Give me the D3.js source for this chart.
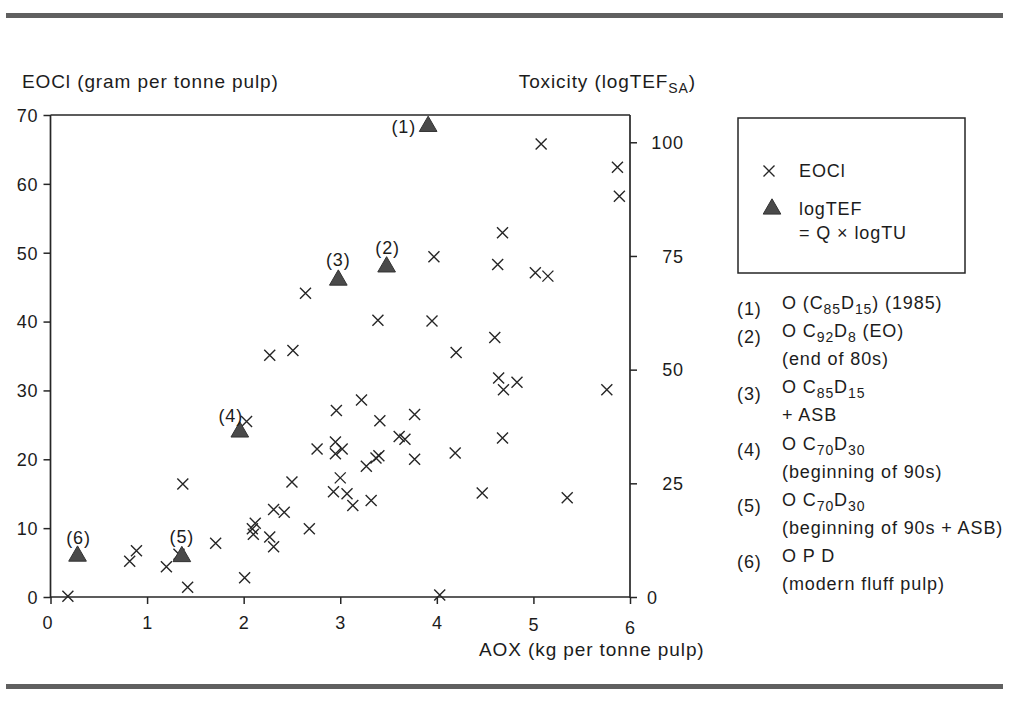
<!DOCTYPE html>
<html>
<head>
<meta charset="utf-8">
<script src="https://cdn.jsdelivr.net/npm/d3@7"></script>
<style>
  html, body { margin: 0; padding: 0; background: #fff; }
  svg { display: block; font-family: "Liberation Sans", Arial, Helvetica, sans-serif; }
  text { fill: #1c1c1c; font-size: 18px; letter-spacing: 0.9px; }
  text.title { font-size: 19px; }
</style>
</head>
<body>
<svg id="chart" width="1009" height="711"></svg>
<script>
// EOCl discharge against AOX, per mill (left axis, g per tonne pulp)
const eoclAox = [0.18, 0.82, 0.89, 1.20, 1.33, 1.37, 1.42, 1.71, 2.01, 2.03,
  2.09, 2.10, 2.12, 2.27, 2.31, 2.31, 2.27, 2.42, 2.50, 2.51,
  2.64, 2.68, 2.76, 2.93, 2.95, 2.95, 2.96, 3.00, 3.02, 3.07,
  3.13, 3.22, 3.27, 3.32, 3.37, 3.40, 3.39, 3.41, 3.61, 3.67,
  3.77, 3.77, 3.95, 3.97, 4.03, 4.19, 4.20, 4.47, 4.60, 4.63,
  4.64, 4.68, 4.68, 4.69, 4.83, 5.02, 5.08, 5.15, 5.35, 5.76,
  5.87, 5.89];
const eoclValue = [0.1, 5.2, 6.7, 4.4, 6.2, 16.4, 1.4, 7.8, 2.8, 25.5,
  9.9, 9.1, 10.7, 8.7, 7.3, 12.7, 35.1, 12.3, 16.7, 35.8,
  44.1, 9.9, 21.5, 15.3, 22.5, 20.8, 27.1, 17.3, 21.5, 15.0,
  13.3, 28.6, 19.0, 14.0, 20.2, 20.5, 40.2, 25.6, 23.3, 22.9,
  26.5, 20.0, 40.1, 49.4, 0.3, 20.9, 35.5, 15.1, 37.7, 48.3,
  31.8, 52.9, 23.1, 30.1, 31.2, 47.1, 65.8, 46.6, 14.4, 30.1,
  62.4, 58.2];

// Toxicity (logTEF_SA) of six bleaching sequences (right axis)
const toxNames = ["(1)", "(2)", "(3)", "(4)", "(5)", "(6)"];
const toxAox = [3.91, 3.48, 2.98, 1.96, 1.36, 0.28];
const toxValue = [103.5, 72.6, 69.7, 36.3, 8.9, 9.0];

// Axis ticks
const xTicks = [0, 1, 2, 3, 4, 5, 6];
const yLeftTicks = [0, 10, 20, 30, 40, 50, 60, 70];
const yRightTicks = [0, 25, 50, 75, 100];

// Sequence key (number, description; _{..} marks a subscript)
const keyNums = ["(1)", "(2)", "", "(3)", "", "(4)", "", "(5)", "", "(6)", ""];
const keyTexts = ["O (C_{85}D_{15}) (1985)", "O C_{92}D_{8} (EO)", "(end of 80s)",
  "O C_{85}D_{15}", "+ ASB", "O C_{70}D_{30}", "(beginning of 90s)",
  "O C_{70}D_{30}", "(beginning of 90s + ASB)", "O P D", "(modern fluff pulp)"];

// Label placement around each triangle: [dx, dy, anchor]
const toxLabelPlace = [[-12, 0, "end"], [1, -19, "middle"], [0, -20, "middle"],
  [-9, -16, "middle"], [0, -20, "middle"], [1, -18, "middle"]];

const INK = "#262626";
const svg = d3.select("#chart");
svg.append("rect").attr("width", 1009).attr("height", 711).attr("fill", "#fff");

// Page rules
svg.append("rect").attr("x", 6).attr("y", 13).attr("width", 997).attr("height", 5).attr("fill", "#606060");
svg.append("rect").attr("x", 6).attr("y", 684).attr("width", 997).attr("height", 5).attr("fill", "#606060");

const x = d3.scaleLinear().domain([0, 6]).range([50.5, 630]);
const yL = d3.scaleLinear().domain([0, 70]).range([597, 115]);
const yR = d3.scaleLinear().domain([0, 106]).range([597, 115]);

// Writes a string with _{..} subscripts into a text element
function richText(sel, str, subSize, subShift) {
  const parts = str.split(/(_\{[^}]*\})/).filter(s => s.length);
  let shifted = false;
  parts.forEach(p => {
    if (p.startsWith("_{")) {
      sel.append("tspan").attr("dy", shifted ? 0 : subShift)
        .style("font-size", subSize + "px").text(p.slice(2, -1));
      shifted = true;
    } else {
      sel.append("tspan").attr("dy", shifted ? -subShift : 0).text(p);
      shifted = false;
    }
  });
}

function styleAxis(g) {
  g.select(".domain").remove();
  g.selectAll(".tick line").attr("stroke", INK).attr("stroke-width", 1.5);
  g.attr("font-size", null).attr("font-family", null);
}

// Bottom axis
const gx = svg.append("g").attr("transform", `translate(0,${yL(0)})`)
  .call(d3.axisBottom(x).tickValues(xTicks).tickSize(7).tickSizeOuter(0).tickFormat(d3.format("d")))
  .call(styleAxis);
gx.selectAll(".tick text").attr("y", 19).attr("dy", "0.71em")
  .attr("transform", d => d === 6 ? "translate(0,5)" : d === 5 ? "translate(0,2)" : d === 0 ? "translate(-3,0)" : null);

// Left axis
const gyl = svg.append("g").attr("transform", `translate(${x(0)},0)`)
  .call(d3.axisLeft(yL).tickValues(yLeftTicks).tickSize(7).tickSizeOuter(0))
  .call(styleAxis);
gyl.selectAll(".tick text").attr("x", -12).attr("dy", "0.35em");

// Right axis
const gyr = svg.append("g").attr("transform", `translate(${x(6)},0)`)
  .call(d3.axisRight(yR).tickValues(yRightTicks).tickSize(7).tickSizeOuter(0))
  .call(styleAxis);
gyr.selectAll(".tick text").attr("dy", "0.35em")
  .attr("x", d => d === 0 ? 17 : 54)
  .attr("text-anchor", d => d === 0 ? "start" : "end");

// Plot frame
const frame = svg.append("g").attr("stroke", INK).attr("stroke-width", 1.7).attr("fill", "none");
frame.append("line").attr("x1", x(0)).attr("x2", x(0)).attr("y1", yL(0) + 1).attr("y2", yL(70));
frame.append("line").attr("x1", x(0)).attr("x2", x(6)).attr("y1", yL(70)).attr("y2", yL(70));
frame.append("line").attr("x1", x(6)).attr("x2", x(6)).attr("y1", yL(0) + 1).attr("y2", yL(70));
frame.append("line").attr("x1", x(0)).attr("x2", x(6)).attr("y1", yL(0)).attr("y2", yL(0));

// Axis titles
svg.append("text").attr("class", "title").attr("x", 22).attr("y", 88).text("EOCl (gram per tonne pulp)");
const tTox = svg.append("text").attr("class", "title").attr("x", 696).attr("y", 88).attr("text-anchor", "end");
richText(tTox, "Toxicity (logTEF_{SA})", 14, 5);
svg.append("text").attr("class", "title").attr("x", 479).attr("y", 656).text("AOX (kg per tonne pulp)");

// EOCl crosses
const cross = "M-5.5,-5.5L5.5,5.5M-5.5,5.5L5.5,-5.5";
svg.append("g").selectAll("path").data(d3.range(eoclAox.length)).join("path")
  .attr("d", cross)
  .attr("transform", i => `translate(${x(eoclAox[i])},${yL(eoclValue[i])})`)
  .attr("stroke", INK).attr("stroke-width", 1.4).attr("fill", "none");

// Toxicity triangles
const tri = d3.symbol(d3.symbolTriangle, 135)();
svg.append("g").selectAll("path").data(d3.range(toxAox.length)).join("path")
  .attr("d", tri)
  .attr("transform", i => `translate(${x(toxAox[i])},${yR(toxValue[i])})`)
  .attr("fill", "#4a4a4a").attr("stroke", "#333").attr("stroke-width", 1);

svg.append("g").selectAll("text").data(d3.range(toxNames.length)).join("text")
  .attr("x", i => x(toxAox[i]) + toxLabelPlace[i][0])
  .attr("y", i => yR(toxValue[i]) + toxLabelPlace[i][1])
  .attr("dy", "0.35em")
  .attr("text-anchor", i => toxLabelPlace[i][2])
  .text(i => toxNames[i]);

// Legend box
const lg = svg.append("g");
lg.append("rect").attr("x", 738).attr("y", 118).attr("width", 227).attr("height", 155)
  .attr("fill", "none").attr("stroke", INK).attr("stroke-width", 1.5);
lg.append("path").attr("d", cross).attr("transform", "translate(769,171)")
  .attr("stroke", INK).attr("stroke-width", 1.4).attr("fill", "none");
lg.append("text").attr("x", 799).attr("y", 171).attr("dy", "0.35em").text("EOCl");
lg.append("path").attr("d", tri).attr("transform", "translate(772,209)")
  .attr("fill", "#4a4a4a").attr("stroke", "#333").attr("stroke-width", 1);
lg.append("text").attr("x", 799).attr("y", 209).attr("dy", "0.35em").text("logTEF");
lg.append("text").attr("x", 799).attr("y", 233).attr("dy", "0.35em").text("= Q \u00d7 logTU");

// Sequence key
const key = svg.append("g");
keyTexts.forEach((t, i) => {
  const yy = 309 + i * 28.1;
  if (keyNums[i]) key.append("text").attr("x", 737).attr("y", yy).attr("dy", "0.35em").text(keyNums[i]);
  richText(key.append("text").attr("x", 782).attr("y", yy).attr("dy", "0.35em"), t, 14, 5);
});
</script>
</body>
</html>
